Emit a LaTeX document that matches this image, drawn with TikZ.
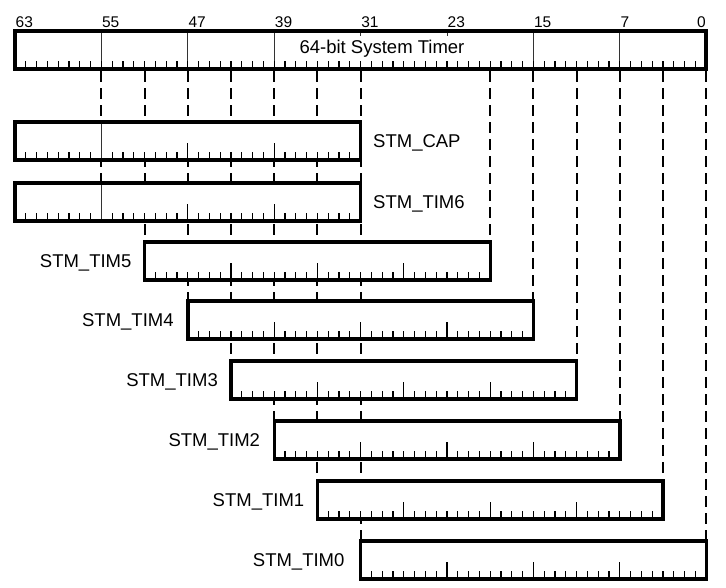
\documentclass[tikz,border=0pt]{standalone}
\usepackage{fontspec}
\setmainfont{Liberation Sans}
\begin{document}
\begin{tikzpicture}[x=1pt,y=-1pt,
  barline/.style={line width=3.4pt},
  topline/.style={line width=3.8pt},
  tick/.style={line width=1.1pt},
  fullline/.style={line width=1pt, black!80},
  guide/.style={line width=2pt, dash pattern=on 11pt off 6pt, dash phase=15pt},
  bitlabel/.style={font=\fontsize{15.5}{17}\selectfont, inner sep=0pt, anchor=base west},
  reglabel/.style={font=\fontsize{18.5}{20}\selectfont, inner sep=0pt, text depth=0pt}]
\useasboundingbox (0,0) rectangle (726,587);
\fill[white] (0,0) rectangle (726,587);

% dashed guide lines
\foreach \b/\t in {55/183, 51/242, 47/301, 43/361, 39/421, 35/481, 31/541,
                   19/242, 15/301, 11/361, 7/421, 3/481, -1/541}
  \draw[guide] ({15+(63-\b)*10.8},69) -- ({15+(63-\b)*10.8},\t);

% top bar
\fill[white] (15,31) rectangle (706.2,69);
\foreach \i in {8,16,...,56}
  \draw[fullline] ({15+\i*10.8},31) -- ({15+\i*10.8},69);
\node[font=\fontsize{18.5}{20}\selectfont, fill=white, inner sep=4pt, anchor=base] (title) at (382,53) {64-bit System Timer};
\foreach \i in {1,...,63}
  \draw[tick] ({15+\i*10.8},69) -- ++(0,-8);
\draw[topline] (15,31) rectangle (706.2,69);

% bit numbers
\foreach \b in {63,55,47,39,31,23,15,7}
  \node[bitlabel] (n\b) at ({15.5+(63-\b)*10.8},27) {\b};
\node[bitlabel, anchor=base east] (n0) at (706,27) {0};

% register bars
\foreach \l/\t/\k in {63/122/1, 63/183/1, 51/242/0, 47/301/0, 43/361/0, 39/421/0, 35/481/0, 31/541/0} {
  \pgfmathsetmacro\xl{15+(63-\l)*10.8}
  \pgfmathsetmacro\xr{\xl+345.6}
  \pgfmathsetmacro\yb{\t+38}
  \fill[white] (\xl,\t) rectangle (\xr,\yb);
  \foreach \i in {1,...,31}
    \draw[tick] ({\xl+\i*10.8},\yb) -- ++(0,-8);
  \foreach \i in {8,16,24}
    \draw[tick] ({\xl+\i*10.8},\yb) -- ++(0,-17);
  \ifnum\k=1 \draw[fullline] ({\xl+86.4},\t) -- ({\xl+86.4},\yb); \fi
  \draw[barline] (\xl,\t) rectangle (\xr,\yb);
}

% register names
\node[reglabel, anchor=west] (lcap)  at (373,141) {STM\_CAP};
\node[reglabel, anchor=west] (ltim6) at (373,202) {STM\_TIM6};
\node[reglabel, anchor=east] (ltim5) at ({144.6-13},261) {STM\_TIM5};
\node[reglabel, anchor=east] (ltim4) at ({187.8-14},320) {STM\_TIM4};
\node[reglabel, anchor=east] (ltim3) at ({231.0-13},380) {STM\_TIM3};
\node[reglabel, anchor=east] (ltim2) at ({274.2-14},440) {STM\_TIM2};
\node[reglabel, anchor=east] (ltim1) at ({317.4-13},500) {STM\_TIM1};
\node[reglabel, anchor=east] (ltim0) at ({360.6-16},560) {STM\_TIM0};
\end{tikzpicture}
\end{document}
